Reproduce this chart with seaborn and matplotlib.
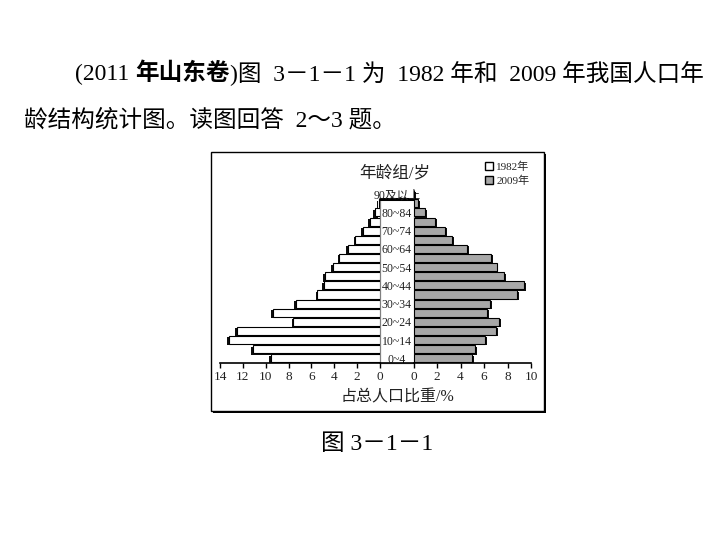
import matplotlib
matplotlib.use("Agg")
import matplotlib.pyplot as plt
import matplotlib.patheffects as pe
from matplotlib.patches import Rectangle, Patch
from matplotlib.lines import Line2D
import seaborn as sns
import pandas as pd

sns.set_theme(style="white")
FAM = ['Liberation Serif', 'Noto Sans CJK SC']
plt.rcParams['font.family'] = FAM
plt.rcParams['axes.unicode_minus'] = False

# ---------------- data (bottom -> top) ----------------
age_groups = ['0~4', '5~9', '10~14', '15~19', '20~24', '25~29', '30~34', '35~39',
              '40~44', '45~49', '50~54', '55~59', '60~64', '65~69', '70~74',
              '75~79', '80~84', '85~89', '90及以上']
pct_1982 = [9.53, 11.14, 13.2, 12.54, 7.58, 9.39, 7.38, 5.48, 4.9, 4.81, 4.14,
            3.56, 2.83, 2.16, 1.52, 0.87, 0.44, 0.1, 0.02]
pct_2009 = [5.01, 5.24, 6.12, 7.0, 7.31, 6.23, 6.52, 8.84, 9.43, 7.71, 7.08,
            6.57, 4.59, 3.31, 2.72, 1.87, 1.02, 0.42, 0.05]
shown_labels = ['0~4', '10~14', '20~24', '30~34', '40~44', '50~54', '60~64',
                '70~74', '80~84', '90及以上']
left_ticks = [14, 12, 10, 8, 6, 4, 2, 0]
right_ticks = [0, 2, 4, 6, 8, 10]
series_names = ['1982年', '2009年']

df = pd.DataFrame({'age': age_groups, 'p1982': pct_1982, 'p2009': pct_2009})
order = age_groups[::-1]

W, H = 709, 539
fig = plt.figure(figsize=(W / 100, H / 100), dpi=100)
fig.patch.set_facecolor('white')


def fx(x):
    return x / W


def fy(y):
    return 1 - y / H


# layout in pixels
ax_top, ax_bot = 189.6, 362.9
xl0, xl1 = 220, 380
xr0, xr1 = 413.5, 531
axL = fig.add_axes([fx(xl0), fy(ax_bot), (xl1 - xl0) / W, (ax_bot - ax_top) / H])
axR = fig.add_axes([fx(xr0), fy(ax_bot), (xr1 - xr0) / W, (ax_bot - ax_top) / H])

GREY = '#a8a8a8'
sns.barplot(data=df, x='p1982', y='age', order=order, orient='h', ax=axL,
            color='white', edgecolor='black', linewidth=0.8, width=0.88,
            saturation=1)
sns.barplot(data=df, x='p2009', y='age', order=order, orient='h', ax=axR,
            color=GREY, edgecolor='black', linewidth=0.8, width=0.88,
            saturation=1)

for p in axL.patches:
    p.set_path_effects([pe.SimplePatchShadow(offset=(-1.3, -1.0), shadow_rgbFace='black', alpha=0.95),
                        pe.Normal()])
for p in axR.patches:
    p.set_path_effects([pe.SimplePatchShadow(offset=(1.3, -1.0), shadow_rgbFace='black', alpha=0.95),
                        pe.Normal()])

n = len(age_groups)
for ax in (axL, axR):
    ax.set_facecolor('none')
    ax.set_ylim(n - 0.5, -0.5)
    ax.set_xlabel('')
    ax.set_ylabel('')
    for s in ('top', 'right', 'left'):
        ax.spines[s].set_visible(False)
    ax.spines['bottom'].set_color('black')
    ax.spines['bottom'].set_linewidth(1.2)
    ax.tick_params(axis='x', direction='out', length=3.5, width=1.0, color='black',
                   pad=2.0, labelsize=9.5, bottom=True, labelcolor='#222222')
    ax.tick_params(axis='y', length=0)

axL.set_xlim(14, 0)
axL.set_xticks(left_ticks)
axL.set_xticklabels([str(t) for t in left_ticks])
axL.set_yticks([])
axR.set_xlim(0, 10)
axR.set_xticks(right_ticks)
axR.set_xticklabels([str(t) for t in right_ticks])

# central age labels on the right axes, centred in the gap
ypos = [order.index(a) for a in shown_labels]
axR.set_yticks(ypos)
axR.set_yticklabels(shown_labels, fontsize=8.5, family=FAM, color='#222222')
gap_pts = (xr0 - xl1) / 2 * 72 / 100
axR.tick_params(axis='y', pad=gap_pts)
for t in axR.get_yticklabels():
    t.set_horizontalalignment('center')

# central strip (white with grey sides, thick black top), below the axes
strip_top = ax_top + 1 * (ax_bot - ax_top) / n
fig.add_artist(Rectangle((fx(xl1), fy(ax_bot)), (xr0 - xl1) / W, (ax_bot - strip_top) / H,
                         transform=fig.transFigure, facecolor='white', edgecolor='#808080',
                         linewidth=0.9, zorder=-0.5))
fig.add_artist(Line2D([fx(xl1), fx(xr0)], [fy(strip_top), fy(strip_top)],
                      transform=fig.transFigure, color='black', linewidth=2.2, zorder=-0.4))
fig.add_artist(Line2D([fx(xl1), fx(xr0)], [fy(ax_bot), fy(ax_bot)],
                      transform=fig.transFigure, color='black', linewidth=1.2, zorder=3))

# outer frame box with shadow
frame = Rectangle((fx(211), fy(411)), (544 - 211) / W, (411 - 152) / H,
                  transform=fig.transFigure, facecolor='white', edgecolor='black',
                  linewidth=1.0, zorder=-1)
frame.set_path_effects([pe.SimplePatchShadow(offset=(1.6, -1.6), shadow_rgbFace='black', alpha=1),
                        pe.Normal()])
fig.add_artist(frame)

# chart title, axis title, legend
fig.text(fx(395), fy(173), '年龄组/岁', ha='center', va='center', fontsize=12,
         family=FAM, color='#222222')
fig.text(fx(397), fy(397), '占总人口比重/%', ha='center', va='center', fontsize=11.5,
         family=FAM, color='#222222')
handles = [Patch(facecolor='white', edgecolor='black', linewidth=1.0),
           Patch(facecolor=GREY, edgecolor='black', linewidth=1.0)]
fig.legend(handles=handles, labels=series_names, loc='center left',
           bbox_to_anchor=(fx(485), fy(173.5)), frameon=False,
           handlelength=0.7, handleheight=0.7, handletextpad=0.3,
           labelspacing=0.3, borderpad=0, borderaxespad=0,
           prop={'family': FAM, 'size': 8})

# surrounding slide text
renderer = fig.canvas.get_renderer()


def seq(segments, x0, y, size=17):
    x = fx(x0)
    for s, w in segments:
        t = fig.text(x, fy(y), s, ha='left', va='center', fontsize=size,
                     family=FAM, fontweight=w, color='black')
        bb = t.get_window_extent(renderer)
        x = bb.x1 / fig.bbox.width


seq([('(2011 ', 'normal'), ('年山东卷', 'bold'),
     (')图  3－1－1 为  1982 年和  2009 年我国人口年', 'normal')], 75, 74)
seq([('龄结构统计图。读图回答  2～3 题。', 'normal')], 24, 120)
fig.text(fx(377.5), fy(444), '图 3－1－1', ha='center', va='center', fontsize=17,
         family=FAM, color='black')

fig.savefig('out.png', dpi=100, facecolor='white')
